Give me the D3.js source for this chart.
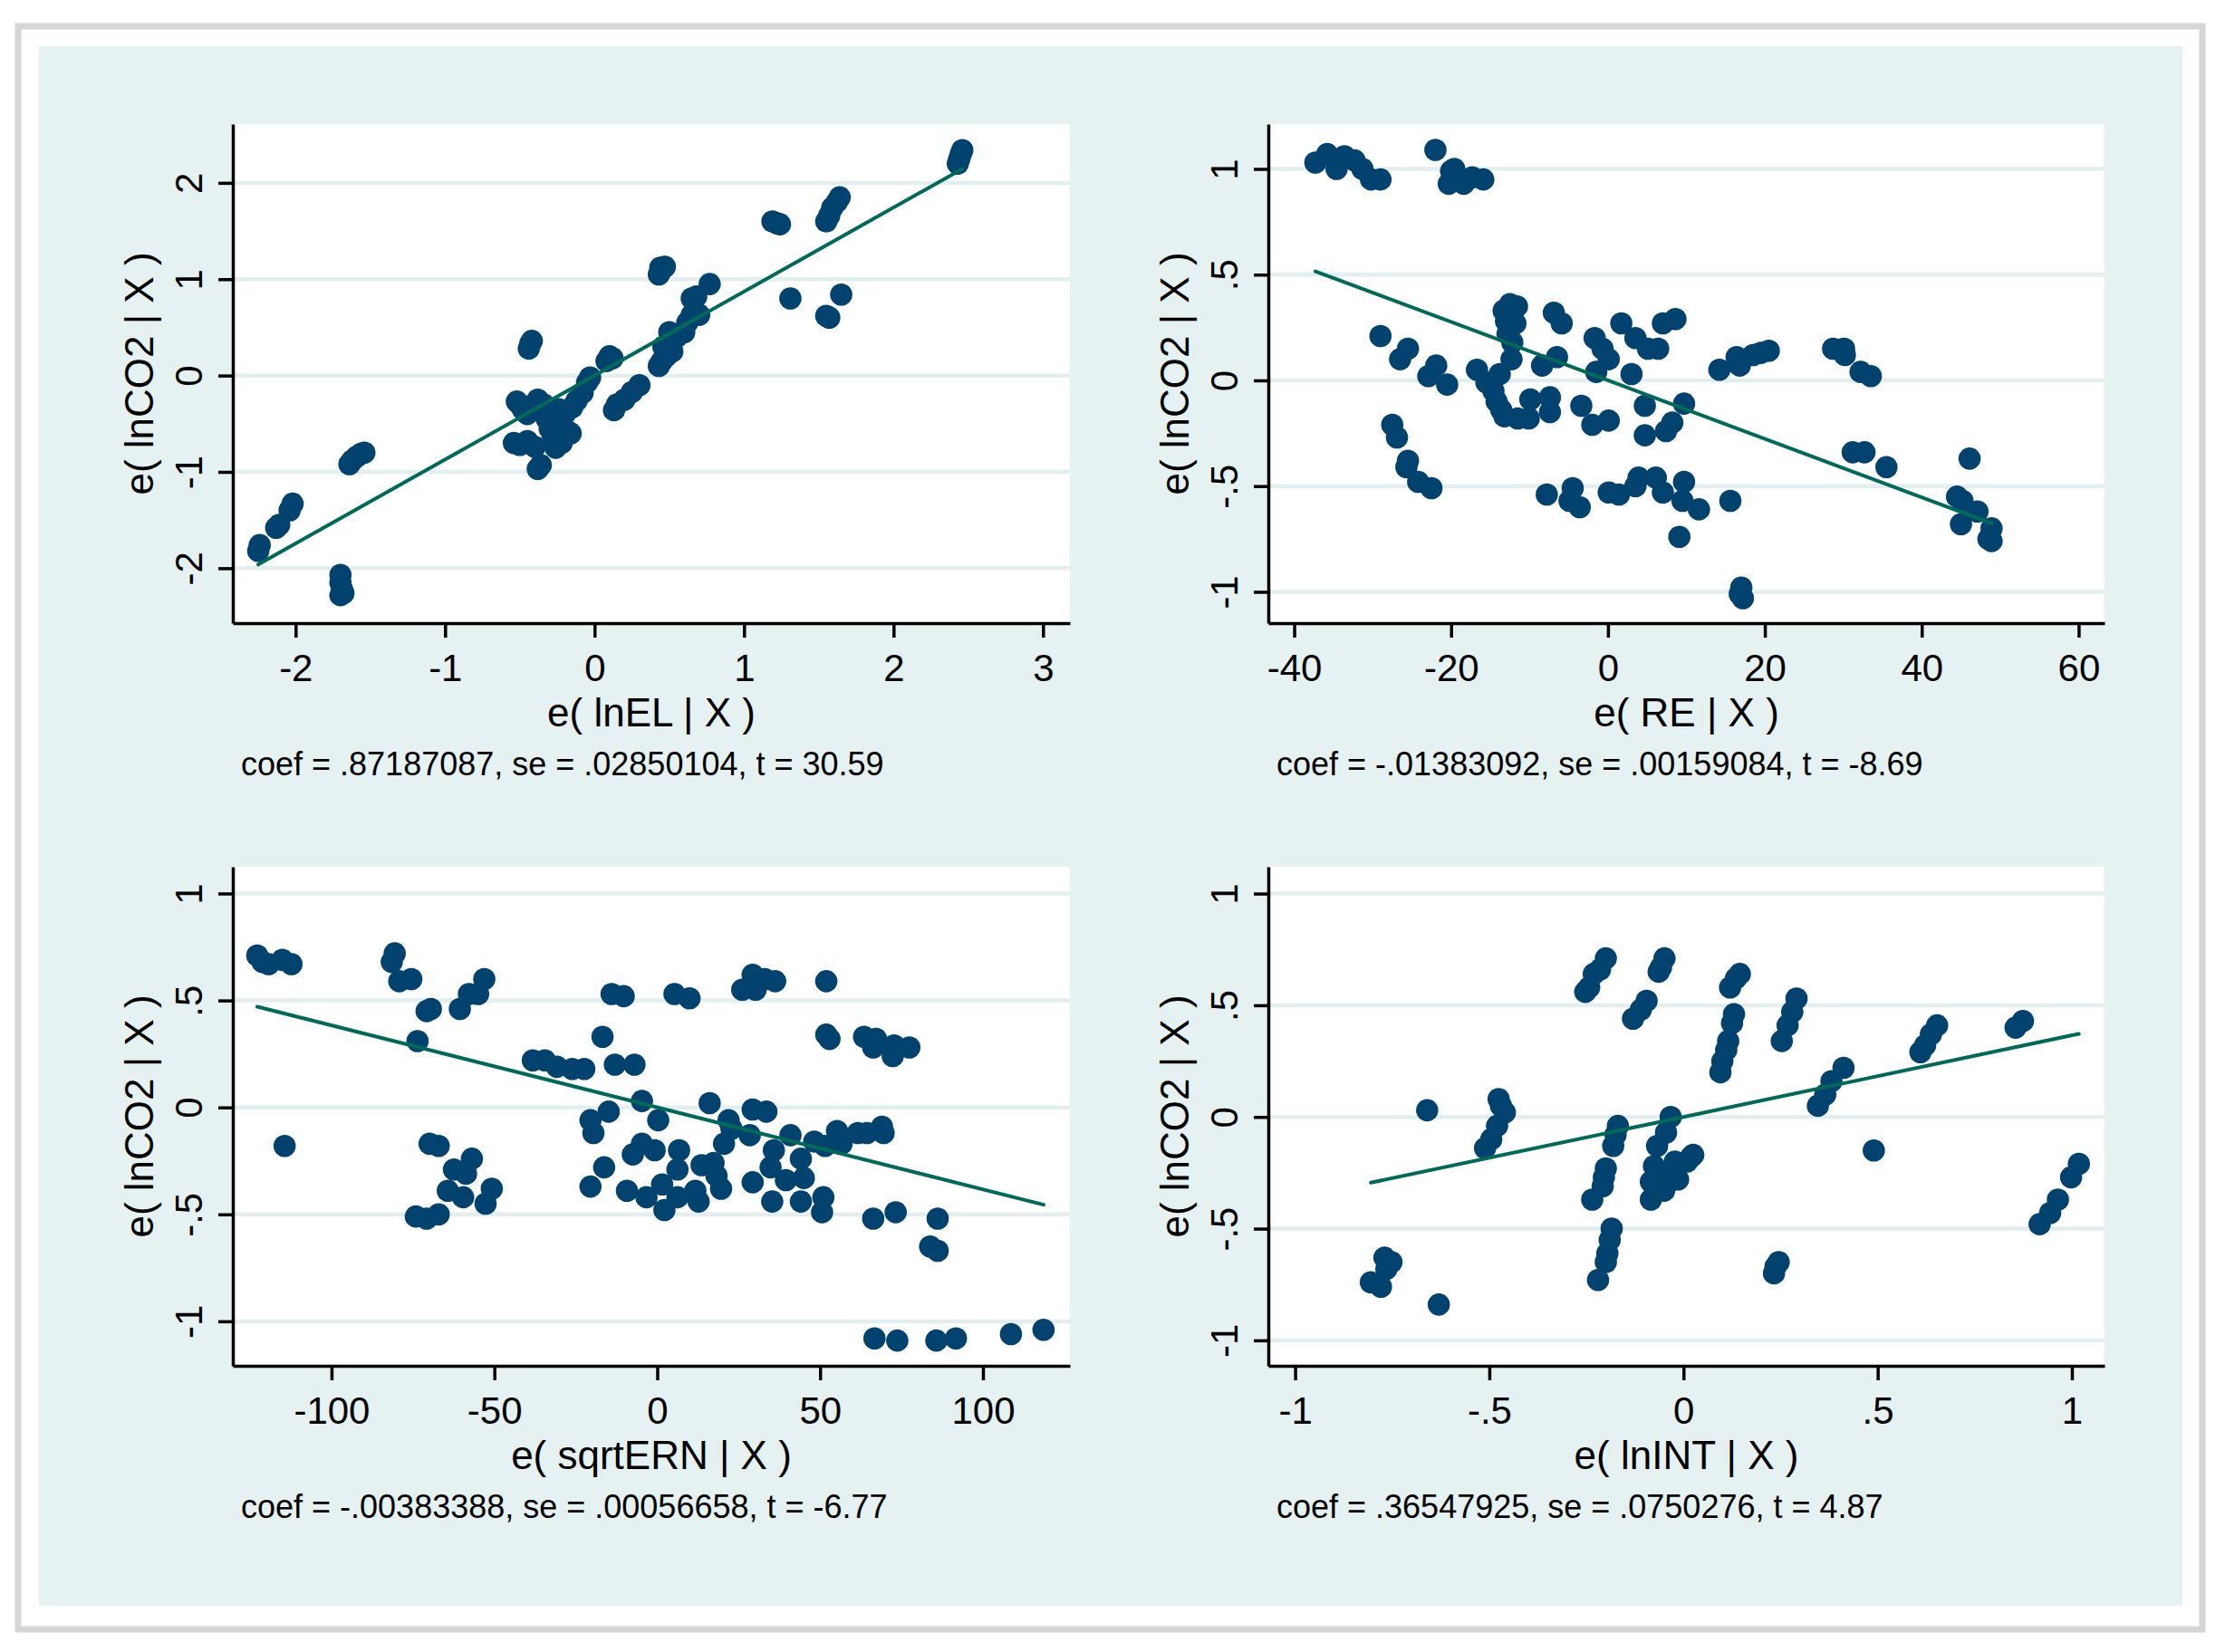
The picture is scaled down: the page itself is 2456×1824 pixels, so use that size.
<!DOCTYPE html>
<html>
<head>
<meta charset="utf-8">
<script src="https://cdn.jsdelivr.net/npm/d3@7/dist/d3.min.js"></script>
<style>
  html, body { margin: 0; padding: 0; background: #ffffff; }
  svg { display: block; }
  text { font-family: "Liberation Sans", Arial, sans-serif; fill: #000; }
</style>
</head>
<body>
<svg id="chart" width="2456" height="1824"></svg>
<script>
// ---------------- DATA ----------------
const yTitle = "e( lnCO2 | X )";
const xTitles = ["e( lnEL | X )", "e( RE | X )", "e( sqrtERN | X )", "e( lnINT | X )"];
const coefs = [0.87187087, -0.01383092, -0.00383388, 0.36547925];
const captions = [
  "coef = .87187087, se = .02850104, t = 30.59",
  "coef = -.01383092, se = .00159084, t = -8.69",
  "coef = -.00383388, se = .00056658, t = -6.77",
  "coef = .36547925, se = .0750276, t = 4.87"
];
const xTicks1 = [-2, -1, 0, 1, 2, 3];
const xTickLabels1 = ["-2", "-1", "0", "1", "2", "3"];
const yTicks1 = [-2, -1, 0, 1, 2];
const yTickLabels1 = ["-2", "-1", "0", "1", "2"];
const xTicks2 = [-40, -20, 0, 20, 40, 60];
const xTickLabels2 = ["-40", "-20", "0", "20", "40", "60"];
const xTicks3 = [-100, -50, 0, 50, 100];
const xTickLabels3 = ["-100", "-50", "0", "50", "100"];
const xTicks4 = [-1, -0.5, 0, 0.5, 1];
const xTickLabels4 = ["-1", "-.5", "0", ".5", "1"];
const yTicksHalf = [-1, -0.5, 0, 0.5, 1];
const yTickLabelsHalf = ["-1", "-.5", "0", ".5", "1"];

// e(lnEL|X), e(lnCO2|X)
const lnELPoints = [
  [-2.25,-1.82],[-2.24,-1.76],[-2.13,-1.58],[-2.11,-1.55],[-2.04,-1.40],[-2.02,-1.33],
  [-1.70,-2.07],[-1.70,-2.15],[-1.69,-2.22],[-1.70,-2.28],[-1.68,-2.26],
  [-1.64,-0.92],[-1.62,-0.88],[-1.59,-0.84],[-1.56,-0.81],[-1.54,-0.80],
  [-0.44,0.28],[-0.43,0.33],[-0.42,0.36],
  [-0.52,-0.27],[-0.50,-0.30],[-0.48,-0.35],[-0.45,-0.40],[-0.54,-0.70],[-0.50,-0.72],
  [-0.45,-0.68],[-0.40,-0.74],[-0.38,-0.97],[-0.36,-0.93],[-0.38,-0.25],[-0.34,-0.30],
  [-0.32,-0.45],[-0.30,-0.55],[-0.28,-0.62],[-0.26,-0.75],[-0.22,-0.70],[-0.18,-0.58],
  [-0.16,-0.60],[-0.20,-0.40],[-0.15,-0.33],[-0.12,-0.26],[-0.08,-0.18],[-0.05,-0.07],
  [-0.03,-0.02],[-0.24,-0.35],[-0.28,-0.48],
  [0.08,0.15],[0.10,0.20],[0.12,0.18],[0.13,-0.36],[0.15,-0.30],[0.20,-0.25],[0.25,-0.17],[0.30,-0.10],
  [0.43,0.10],[0.45,0.15],[0.48,0.20],[0.52,0.25],[0.46,0.30],[0.50,0.45],[0.55,0.40],[0.60,0.45],
  [0.62,0.55],[0.65,0.63],[0.70,0.63],[0.65,0.80],[0.68,0.82],[0.77,0.95],
  [0.43,1.05],[0.44,1.12],[0.47,1.13],[0.45,1.10],
  [1.19,1.60],[1.22,1.58],[1.24,1.57],
  [1.31,0.80],
  [1.55,1.60],[1.57,1.66],[1.59,1.74],[1.62,1.80],[1.64,1.85],
  [1.57,0.60],[1.55,0.62],[1.65,0.84],
  [2.43,2.20],[2.44,2.25],[2.45,2.30],[2.46,2.34]
];
// e(RE|X), e(lnCO2|X)
const REPoints = [
  [-37.3,1.03],[-35.8,1.07],[-34.6,1.00],[-33.6,1.06],[-32.3,1.04],[-31.3,1.00],[-30.2,0.95],[-29.0,0.95],
  [-22.0,1.09],[-20.3,0.93],[-20.0,0.99],[-19.6,1.00],[-18.4,0.93],[-17.3,0.96],[-15.9,0.95],
  [-29.0,0.21],[-25.5,0.15],[-26.5,0.10],[-21.9,0.07],[-22.9,0.02],[-20.5,-0.02],
  [-27.5,-0.21],[-26.9,-0.27],[-25.5,-0.38],[-25.7,-0.41],[-24.2,-0.48],[-22.5,-0.51],
  [-13.3,0.33],[-12.5,0.36],[-11.6,0.35],[-13.0,0.28],[-11.8,0.27],[-12.8,0.22],[-12.2,0.18],
  [-6.9,0.32],[-5.9,0.27],
  [-16.7,0.05],[-15.5,-0.01],[-14.6,-0.05],[-13.8,0.03],[-12.3,0.10],[-14.2,-0.10],[-13.6,-0.14],[-13.2,-0.17],
  [-9.9,-0.09],[-7.4,-0.08],[-7.4,-0.15],[-10.1,-0.18],[-11.5,-0.18],
  [-8.4,0.07],[-6.5,0.11],
  [-3.4,-0.12],[-2.0,-0.21],[0.1,-0.19],
  [-1.7,0.20],[-0.7,0.15],[-1.5,0.04],[0.1,0.10],[3.0,0.03],
  [1.7,0.27],[3.5,0.20],[5.1,0.15],[6.4,0.15],[8.6,0.29],[7.0,0.27],
  [4.7,-0.12],[4.7,-0.26],[7.4,-0.24],[8.2,-0.20],[9.7,-0.11],
  [-7.8,-0.54],[-4.5,-0.51],[-4.9,-0.57],[-3.6,-0.60],
  [0.1,-0.53],[1.4,-0.54],[3.9,-0.46],[3.5,-0.50],[6.1,-0.46],[7.0,-0.53],[9.7,-0.48],[9.5,-0.57],[11.6,-0.61],
  [9.1,-0.74],
  [15.6,-0.57],
  [16.8,-1.01],[17.0,-0.98],[17.2,-1.03],
  [14.2,0.05],[16.4,0.11],[16.8,0.07],[18.5,0.12],[19.5,0.13],[20.5,0.14],
  [28.7,0.15],[30.1,0.15],[30.2,0.12],[32.2,0.04],[33.5,0.02],
  [31.2,-0.34],[32.7,-0.34],[35.5,-0.41],
  [46.1,-0.37],
  [44.5,-0.55],[45.2,-0.57],[45.0,-0.68],[47.1,-0.62],[48.9,-0.70],[48.5,-0.75],[48.9,-0.76]
];
// e(sqrtERN|X), e(lnCO2|X)
const sqrtERNPoints = [
  [-122.8,0.71],[-121.2,0.68],[-119.3,0.67],[-115.1,0.69],[-112.3,0.67],
  [-114.4,-0.18],
  [-80.6,0.72],[-81.5,0.68],[-79.2,0.59],[-75.5,0.60],
  [-70.8,0.45],[-69.5,0.46],[-73.6,0.31],
  [-60.6,0.46],[-57.8,0.53],[-53.1,0.60],[-55.0,0.53],
  [-69.9,-0.17],[-67.1,-0.18],
  [-62.4,-0.29],[-56.9,-0.24],[-58.7,-0.31],
  [-64.3,-0.39],[-59.6,-0.42],
  [-50.8,-0.38],[-52.7,-0.45],
  [-74.1,-0.51],[-70.8,-0.52],[-67.1,-0.50],
  [-38.2,0.22],[-34.5,0.22],[-30.8,0.19],[-26.1,0.18],[-22.4,0.18],
  [-16.8,0.33],[-14.0,0.53],[-10.3,0.52],
  [-13.0,0.20],[-7.0,0.20],
  [-4.7,0.03],
  [-20.5,-0.06],[-19.6,-0.12],[-14.9,-0.02],
  [0.3,-0.06],
  [-4.7,-0.17],[-7.5,-0.22],[-0.8,-0.20],
  [-16.3,-0.28],[-20.5,-0.37],
  [-9.3,-0.39],[-3.3,-0.42],[1.5,-0.36],[2.2,-0.48],
  [5.3,0.53],[9.9,0.51],
  [26.1,0.55],[29.3,0.62],[33.0,0.60],[30.2,0.55],[36.2,0.59],
  [51.9,0.59],[51.9,0.34],[52.9,0.32],
  [63.5,0.33],[67.2,0.32],[66.3,0.28],[72.7,0.29],[72.3,0.24],[77.4,0.28],
  [16.1,0.02],
  [6.7,-0.20],[6.2,-0.29],[6.2,-0.42],[12.7,-0.44],[11.7,-0.39],
  [13.6,-0.27],[17.3,-0.26],[18.2,-0.32],[19.6,-0.38],
  [20.5,-0.17],[22.8,-0.10],[21.9,-0.06],[29.3,-0.01],[33.5,-0.02],[28.4,-0.13],
  [29.3,-0.35],
  [35.8,-0.20],[34.8,-0.28],[39.5,-0.34],[40.9,-0.13],[44.1,-0.24],[45.0,-0.33],
  [35.3,-0.44],[44.1,-0.44],[51.0,-0.42],[50.6,-0.49],
  [48.2,-0.16],[51.5,-0.18],[55.2,-0.11],[56.6,-0.17],[61.6,-0.12],[64.4,-0.12],[69.0,-0.09],[69.5,-0.12],
  [66.3,-0.52],[73.2,-0.49],
  [86.1,-0.52],[83.8,-0.65],[86.1,-0.67],
  [66.7,-1.08],[73.7,-1.09],[85.7,-1.09],[91.7,-1.08],[108.6,-1.06],[118.6,-1.04]
];
// e(lnINT|X), e(lnCO2|X)
const lnINTPoints = [
  [-0.200,0.71],[-0.215,0.66],[-0.231,0.64],[-0.243,0.58],[-0.253,0.56],
  [-0.049,0.71],[-0.058,0.67],[-0.064,0.65],
  [-0.095,0.52],[-0.110,0.48],[-0.130,0.44],
  [-0.660,0.03],
  [-0.476,0.08],[-0.470,0.05],[-0.460,0.02],[-0.480,-0.04],[-0.495,-0.10],[-0.511,-0.14],
  [-0.770,-0.63],[-0.752,-0.65],[-0.765,-0.68],[-0.805,-0.74],[-0.779,-0.76],
  [-0.630,-0.84],
  [-0.169,-0.04],[-0.175,-0.08],[-0.181,-0.13],[-0.200,-0.23],[-0.205,-0.27],[-0.208,-0.31],[-0.235,-0.37],
  [-0.185,-0.50],[-0.190,-0.55],[-0.196,-0.61],[-0.200,-0.65],[-0.220,-0.73],
  [-0.033,0.00],[-0.045,-0.07],[-0.068,-0.13],[-0.076,-0.22],[-0.084,-0.29],[-0.084,-0.37],
  [-0.037,-0.29],[-0.022,-0.20],[0.009,-0.20],[0.025,-0.17],[-0.014,-0.28],[-0.060,-0.25],[-0.050,-0.33],
  [0.019,-0.18],
  [0.145,0.64],[0.135,0.62],[0.12,0.58],[0.13,0.46],[0.125,0.42],[0.115,0.34],[0.11,0.30],[0.10,0.25],[0.095,0.20],
  [0.291,0.53],[0.280,0.47],[0.268,0.41],[0.253,0.34],
  [0.412,0.22],[0.381,0.16],[0.365,0.10],[0.346,0.05],
  [0.490,-0.15],
  [0.237,-0.67],[0.245,-0.65],[0.233,-0.70],
  [0.653,0.41],[0.637,0.37],[0.610,0.29],[0.622,0.32],
  [0.874,0.43],[0.855,0.40],
  [1.018,-0.21],[0.998,-0.27],[0.964,-0.37],[0.944,-0.43],[0.917,-0.48]
];

// ---------------- LAYOUT ----------------
const colors = {
  frame: "#d6d6d6", region: "#e6f1f1", grid: "#e3eeef",
  marker: "#02426e", fit: "#006a58", axis: "#000000"
};
const panels = [
  { pts: lnELPoints, left: 257, top: 137, right: 1181, bottom: 688,
    xDom: [-2.42, 3.18], yDom: [-2.57, 2.61],
    xTicks: xTicks1, xLabels: xTickLabels1, yTicks: yTicks1, yLabels: yTickLabels1 },
  { pts: REPoints, left: 1400, top: 137, right: 2323, bottom: 688,
    xDom: [-43.3, 63.3], yDom: [-1.148, 1.212],
    xTicks: xTicks2, xLabels: xTickLabels2, yTicks: yTicksHalf, yLabels: yTickLabelsHalf },
  { pts: sqrtERNPoints, left: 257, top: 957, right: 1181, bottom: 1508,
    xDom: [-130.3, 126.7], yDom: [-1.208, 1.125],
    xTicks: xTicks3, xLabels: xTickLabels3, yTicks: yTicksHalf, yLabels: yTickLabelsHalf },
  { pts: lnINTPoints, left: 1400, top: 957, right: 2323, bottom: 1508,
    xDom: [-1.069, 1.084], yDom: [-1.114, 1.12],
    xTicks: xTicks4, xLabels: xTickLabels4, yTicks: yTicksHalf, yLabels: yTickLabelsHalf }
];

const svg = d3.select("#chart");
svg.append("rect").attr("x", 0).attr("y", 0).attr("width", 2456).attr("height", 1824).attr("fill", "#fff");
svg.append("rect").attr("x", 20).attr("y", 29).attr("width", 2411).attr("height", 1770)
  .attr("fill", "#fff").attr("stroke", colors.frame).attr("stroke-width", 7);
svg.append("rect").attr("x", 43).attr("y", 51).attr("width", 2366).attr("height", 1722)
  .attr("fill", colors.region);

const tickFS = 42, titleFS = 44, capFS = 36;

panels.forEach((p, i) => {
  const g = svg.append("g");
  const x = d3.scaleLinear().domain(p.xDom).range([p.left, p.right]);
  const y = d3.scaleLinear().domain(p.yDom).range([p.bottom, p.top]);

  g.append("rect").attr("x", p.left).attr("y", p.top)
    .attr("width", p.right - p.left).attr("height", p.bottom - p.top).attr("fill", "#fff");

  // gridlines
  g.selectAll(".grid").data(p.yTicks).enter().append("line")
    .attr("x1", p.left).attr("x2", p.right)
    .attr("y1", d => y(d)).attr("y2", d => y(d))
    .attr("stroke", colors.grid).attr("stroke-width", 4.5);

  // markers
  g.selectAll(".pt").data(p.pts).enter().append("circle")
    .attr("cx", d => x(d[0])).attr("cy", d => y(d[1])).attr("r", 12.3)
    .attr("fill", colors.marker);

  // fitted line (through origin, over data range)
  const ext = d3.extent(p.pts, d => d[0]);
  const line = d3.line().x(d => x(d[0])).y(d => y(d[1]));
  g.append("path").datum(ext.map(v => [v, coefs[i] * v]))
    .attr("d", line).attr("fill", "none").attr("stroke", colors.fit)
    .attr("stroke-width", 4).attr("stroke-linecap", "round");

  // axes
  const xAxis = d3.axisBottom(x).tickValues(p.xTicks).tickSize(16).tickSizeOuter(0)
    .tickFormat((d, k) => p.xLabels[k]);
  const yAxis = d3.axisLeft(y).tickValues(p.yTicks).tickSize(16).tickSizeOuter(0)
    .tickFormat((d, k) => p.yLabels[k]);

  const gx = g.append("g").attr("transform", `translate(0,${p.bottom})`).call(xAxis);
  const gy = g.append("g").attr("transform", `translate(${p.left},0)`).call(yAxis);
  [gx, gy].forEach(a => {
    a.select(".domain").attr("stroke", colors.axis).attr("stroke-width", 3.5);
    a.selectAll(".tick line").attr("stroke", colors.axis).attr("stroke-width", 3.5);
    a.selectAll("text").attr("font-family", '"Liberation Sans", Arial, sans-serif')
      .attr("font-size", tickFS).attr("fill", "#000");
  });
  gx.selectAll(".tick text").attr("y", 64).attr("dy", null).attr("text-anchor", "middle");
  gy.selectAll(".tick text").attr("x", null).attr("dy", null).attr("text-anchor", "middle")
    .attr("transform", "translate(-34,0) rotate(-90)");

  // titles
  g.append("text").attr("x", (p.left + p.right) / 2).attr("y", p.bottom + 114)
    .attr("text-anchor", "middle").attr("font-size", titleFS).text(xTitles[i]);
  g.append("text").attr("transform", `translate(${p.left - 88},${(p.top + p.bottom) / 2}) rotate(-90)`)
    .attr("text-anchor", "middle").attr("font-size", titleFS).text(yTitle);

  // note
  g.append("text").attr("x", p.left + 9).attr("y", p.bottom + 168)
    .attr("font-size", capFS).text(captions[i]);
});
</script>
</body>
</html>
